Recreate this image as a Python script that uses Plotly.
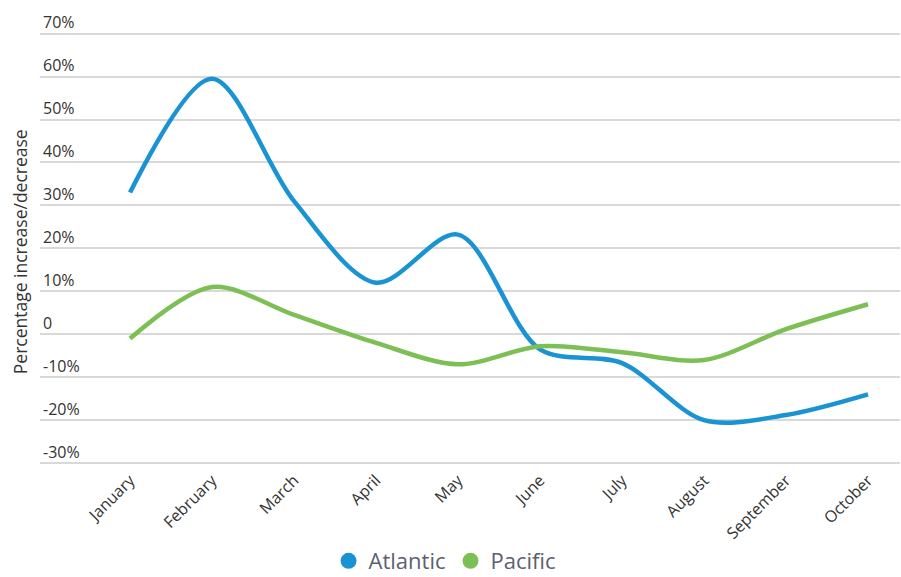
import plotly.graph_objects as go

months = ["January", "February", "March", "April", "May", "June",
          "July", "August", "September", "October"]
atlantic = [33, 59.5, 31, 12, 23.2, -3.5, -6.7, -20, -18.8, -14]
pacific = [-1, 11, 4.5, -2, -7, -2.8, -4.2, -6, 1.2, 7]
y_ticks = [-30, -20, -10, 0, 10, 20, 30, 40, 50, 60, 70]
y_tick_text = ["-30%", "-20%", "-10%", "0", "10%", "20%", "30%", "40%", "50%", "60%", "70%"]
y_title = "Percentage increase/decrease"

blue = "#1a93d3"
green = "#7cbf55"
font_family = "'Open Sans', 'Noto Sans', sans-serif"

fig = go.Figure()
xs = list(range(len(months)))
fig.add_trace(go.Scatter(x=xs, y=atlantic, mode="lines", name="Atlantic",
                         line=dict(color=blue, width=4.5, shape="spline", smoothing=0.9),
                         showlegend=False))
fig.add_trace(go.Scatter(x=xs, y=pacific, mode="lines", name="Pacific",
                         line=dict(color=green, width=4.5, shape="spline", smoothing=0.9),
                         showlegend=False))
# legend entries (circle symbols)
fig.add_trace(go.Scatter(x=[None], y=[None], mode="markers", name="Atlantic",
                         marker=dict(color=blue, size=20, symbol="circle")))
fig.add_trace(go.Scatter(x=[None], y=[None], mode="markers", name="Pacific",
                         marker=dict(color=green, size=20, symbol="circle")))

# plot area: x 40..900 px, y 10..467 px (70% gridline at 34, -30% at 463)
fig.update_layout(
    width=901, height=577,
    margin=dict(l=40, r=1, t=10, b=110),
    plot_bgcolor="white", paper_bgcolor="white",
    font=dict(family=font_family, color="#333333"),
    legend=dict(orientation="h", x=0.471, xanchor="center",
                yref="container", y=(577 - 561) / 577, yanchor="middle",
                font=dict(size=22, color="#5b6170"), itemsizing="trace",
                tracegroupgap=0),
    xaxis=dict(
        tickmode="array", tickvals=xs, ticktext=months, automargin=False,
        range=[-1.098, 9.39], tickangle=-45, showgrid=False, zeroline=False,
        showline=False, ticks="", tickfont=dict(size=16, color="#333333"),
    ),
    yaxis=dict(
        range=[-30.9, 75.5], tickmode="array", tickvals=y_ticks, ticktext=y_tick_text,
        ticklabelposition="inside top", showgrid=True, gridcolor="#d9d9d9",
        gridwidth=2, zeroline=False, showline=False, ticks="", automargin=False,
        tickfont=dict(size=16, color="#333333"),
    ),
    annotations=[dict(text=y_title, xref="paper", yref="paper",
                      x=-0.023, y=(467 - 252) / 457, xanchor="center", yanchor="middle",
                      textangle=-90, showarrow=False,
                      font=dict(size=17.5, color="#333333"))],
)

fig.write_html("out.html", config={"displayModeBar": False},
               post_script="document.body.style.margin='0px';"
                           "document.body.style.overflow='hidden';")
